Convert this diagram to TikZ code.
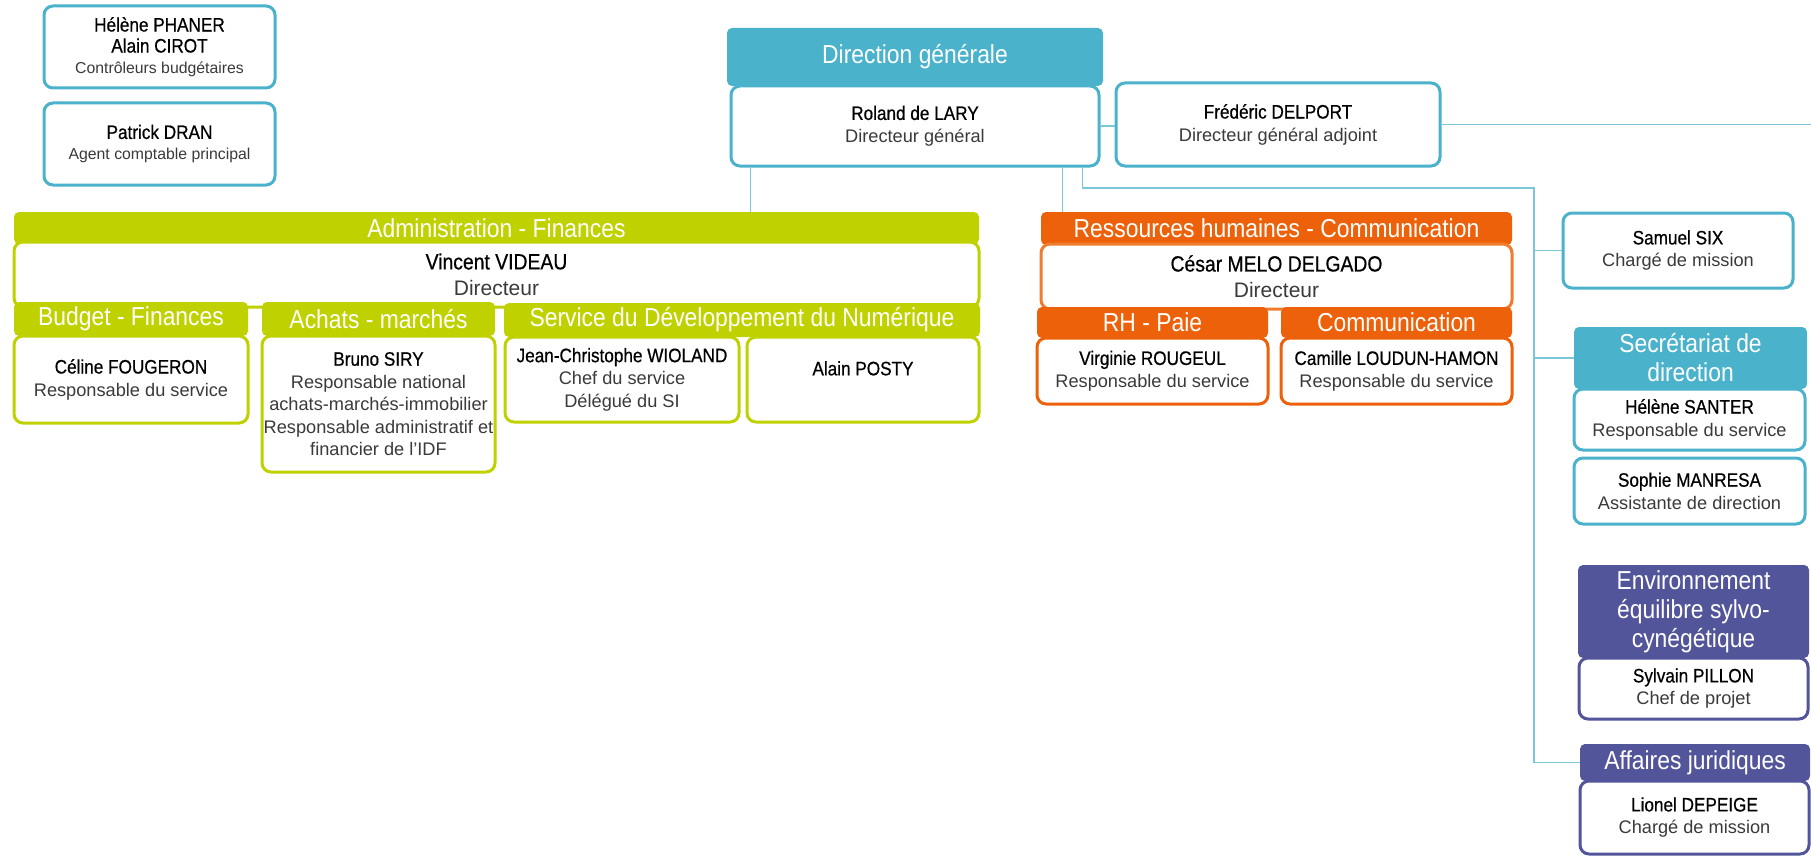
\documentclass[tikz,border=0pt]{standalone}
\usepackage{fontspec}
\setmainfont{Liberation Sans}
\newfontfamily\condfont{Liberation Sans}[FakeStretch=0.88]
\newfontfamily\namefont{Liberation Sans}[FakeStretch=0.88,FakeBold=0.6]
\usetikzlibrary{calc}
\definecolor{dgteal}{HTML}{4AB2CB}
\definecolor{lime}{HTML}{BFD200}
\definecolor{orng}{HTML}{EC6109}
\definecolor{orngb}{HTML}{F07D2E}
\definecolor{purp}{HTML}{525599}
\definecolor{linec}{HTML}{7CC6D9}
\definecolor{rolec}{HTML}{3A3A3A}
\newcommand{\pname}[1]{{\namefont\fontsize{19.5}{22.5}\selectfont #1}}
\newcommand{\bigname}[1]{{\namefont\fontsize{22}{26}\selectfont #1}}
\newcommand{\prole}[1]{{\color{rolec}#1}}
\begin{document}
\begin{tikzpicture}[x=1pt,y=-1pt,
  conn/.style={draw=linec, line width=1.5pt},
  hdr/.style={fill=#1, draw=none, rounded corners=5pt, text=white,
    font=\condfont\fontsize{26}{29}\selectfont, align=center, inner sep=0pt},
  bx/.style={draw=#1, fill=white, line width=3pt, rounded corners=9pt,
    align=center, inner sep=0pt, font=\fontsize{18.2}{22.5}\selectfont},
  smallbx/.style={bx=#1, font=\fontsize{15.8}{21}\selectfont},
  dirbx/.style={bx=#1, font=\fontsize{21}{26}\selectfont}]
\useasboundingbox (0,0) rectangle (1811,856);

% top-left
\node[smallbx=dgteal, minimum width=231, minimum height=82] (phaner) at (159.5,47)
  {\pname{Hélène PHANER}\\\pname{Alain CIROT}\\\prole{Contrôleurs budgétaires}};
\node[smallbx=dgteal, minimum width=231, minimum height=82] (dran) at (159.5,144)
  {\pname{Patrick DRAN}\\\prole{Agent comptable principal}};

% direction generale
\node[hdr=dgteal, minimum width=376, minimum height=58] (dg) at (915,57) {Direction générale};
\node[bx=dgteal, minimum width=368, minimum height=80] (roland) at (915,126)
  {\pname{Roland de LARY}\\\prole{Directeur général}};
\node[bx=dgteal, minimum width=324, minimum height=83] (fred) at (1278,124.5)
  {\pname{Frédéric DELPORT}\\\prole{Directeur général adjoint}};

% administration - finances
\node[hdr=lime, minimum width=965, minimum height=32] (admin) at (496.5,228) {Administration - Finances};
\node[dirbx=lime, minimum width=965, minimum height=65] (videau) at (496.5,274.5)
  {\bigname{Vincent VIDEAU}\\\prole{Directeur}};
\node[hdr=lime, minimum width=234, minimum height=34] (budget) at (131,319) {Budget - Finances};
\node[bx=lime, minimum width=234, minimum height=87] (celine) at (131,379.5)
  {\pname{Céline FOUGERON}\\\prole{Responsable du service}};
\node[hdr=lime, minimum width=233, minimum height=34] (achats) at (378.5,319) {Achats - marchés};
\node[bx=lime, minimum width=233, minimum height=136] (bruno) at (378.5,404)
  {\pname{Bruno SIRY}\\\prole{Responsable national}\\\prole{achats-marchés-immobilier}\\\prole{Responsable administratif et}\\\prole{financier de l’IDF}};
\node[hdr=lime, minimum width=476, minimum height=34] (sdn) at (742,320) {Service du Développement du Numérique};
\node[bx=lime, minimum width=234, minimum height=85] (jc) at (622,379.5)
  {\pname{Jean-Christophe WIOLAND}\\\prole{Chef du service}\\\prole{Délégué du SI}};
\node[bx=lime, minimum width=232, minimum height=85] (posty) at (863,379.5)
  {\pname{Alain POSTY}\\\mbox{}};

% RH - communication
\node[hdr=orng, minimum width=471, minimum height=33] (rh) at (1276.5,228.5) {Ressources humaines - Communication};
\node[dirbx=orngb, minimum width=471, minimum height=65] (cesar) at (1276.5,276.5)
  {\bigname{César MELO DELGADO}\\\prole{Directeur}};
\node[hdr=orng, minimum width=231, minimum height=31] (paie) at (1152.5,322.5) {RH - Paie};
\node[bx=orng, minimum width=231, minimum height=66] (virginie) at (1152.5,371)
  {\pname{Virginie ROUGEUL}\\\prole{Responsable du service}};
\node[hdr=orng, minimum width=231, minimum height=31] (com) at (1396.5,322.5) {Communication};
\node[bx=orng, minimum width=231, minimum height=66] (camille) at (1396.5,371)
  {\pname{Camille LOUDUN-HAMON}\\\prole{Responsable du service}};

% right column
\node[bx=dgteal, minimum width=230, minimum height=75] (samuel) at (1678,250.5)
  {\pname{Samuel SIX}\\\prole{Chargé de mission}};
\node[hdr=dgteal, minimum width=233, minimum height=62] (sec) at (1690.5,358) {Secrétariat de\\direction};
\node[bx=dgteal, minimum width=231, minimum height=61] (santer) at (1689.5,419.5)
  {\pname{Hélène SANTER}\\\prole{Responsable du service}};
\node[bx=dgteal, minimum width=231, minimum height=66] (manresa) at (1689.5,491)
  {\pname{Sophie MANRESA}\\\prole{Assistante de direction}};
\node[hdr=purp, minimum width=231, minimum height=93] (env) at (1693.5,611.5) {Environnement\\équilibre sylvo-\\cynégétique};
\node[bx=purp, minimum width=229, minimum height=61] (sylvain) at (1693.5,688.5)
  {\pname{Sylvain PILLON}\\\prole{Chef de projet}};
\node[hdr=purp, minimum width=230, minimum height=37] (aff) at (1695,762.5) {Affaires juridiques};
\node[bx=purp, minimum width=229, minimum height=73] (lionel) at (1694.5,817.5)
  {\pname{Lionel DEPEIGE}\\\prole{Chargé de mission}};

% connectors
\coordinate (trunk) at (1534,188);
\coordinate (redge) at (1811,124);
\draw[conn] (roland.east) -- (roland.east -| fred.west);
\draw[conn] (fred.east) -- (fred.east -| redge);
\draw[conn] ([xshift=21pt]roland.south west) -- ([xshift=21pt]roland.south west |- admin.north);
\draw[conn] ([xshift=333pt]roland.south west) -- ([xshift=333pt]roland.south west |- rh.north);
\draw[conn] ([xshift=353pt]roland.south west) |- (trunk) -- (trunk |- aff.west) -- (aff.west);
\draw[conn] (trunk |- samuel.west) -- (samuel.west);
\draw[conn] (trunk |- sec.west) -- (sec.west);
\end{tikzpicture}
\end{document}
